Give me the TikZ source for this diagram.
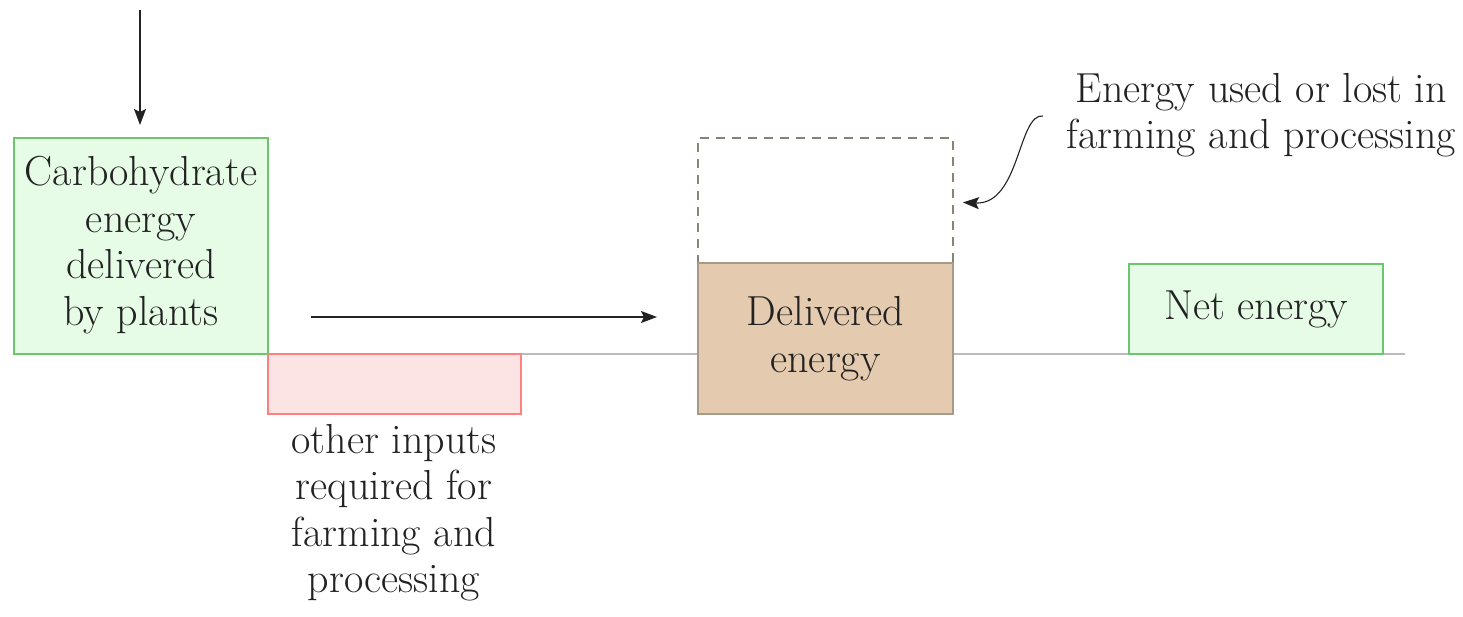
\documentclass[tikz,border=0pt]{standalone}
\usetikzlibrary{arrows.meta}
\definecolor{gfill}{HTML}{E6FCE6}
\definecolor{gline}{HTML}{6CC66C}
\definecolor{rfill}{HTML}{FDE4E4}
\definecolor{rline}{HTML}{FF8080}
\definecolor{bfill}{HTML}{E4CAAF}
\definecolor{bline}{HTML}{A89A88}
\definecolor{dline}{HTML}{8A8275}
\definecolor{axis}{HTML}{BBBBBB}
\definecolor{ink}{HTML}{222222}
\tikzset{
  x=1pt, y=-1pt,
  every node/.style={inner sep=0pt, outer sep=0pt, text=ink, align=center,
    font=\fontsize{42}{46.5}\selectfont},
  greenbox/.style={draw=gline, fill=gfill, line width=1.8pt, anchor=north west},
  redbox/.style={draw=rline, fill=rfill, line width=1.8pt, anchor=north west},
  brownbox/.style={draw=bline, fill=bfill, line width=1.8pt, anchor=north west},
  lostbox/.style={draw=dline, dash pattern=on 9pt off 7pt, line width=1.6pt, anchor=north west},
  arr/.style={draw=ink, line width=1.4pt, -{Stealth[length=16pt,width=12pt,inset=3pt]}},
}
\begin{document}
\begin{tikzpicture}
\useasboundingbox (0,0) rectangle (1463,616);
% zero line
\draw[axis, line width=1.6pt] (14,354) -- (1405,354);
% boxes
\node[greenbox, minimum width=254pt, minimum height=216pt] (carb) at (14,138) {};
\node (carblbl) at (141,245) {Carbohydrate\\energy\\delivered\\by plants};
\node[redbox, minimum width=253pt, minimum height=60pt] (other) at (268,354) {};
\node[anchor=north] (otherlbl) at (394,424) {other inputs\\required for\\farming and\\processing};
\node[lostbox, minimum width=255pt, minimum height=125pt] (lost) at (698,138) {};
\node[brownbox, minimum width=255pt, minimum height=151pt] (deliv) at (698,263) {Delivered\\energy};
\node[greenbox, minimum width=254pt, minimum height=90pt] (net) at (1129,264) {Net energy};
\node[anchor=north east] (annot) at (1456,73) {Energy used or lost in\\farming and processing};
% connectors
\coordinate (src) at (140,10);
\draw[arr, shorten >=13pt] (src) -- (carb.north -| src);
\coordinate (h) at (0,317);
\draw[arr, shorten <=43pt, shorten >=41pt] (carb.east |- h) -- (deliv.west |- h);
\coordinate (astart) at (1043,116);
\coordinate (aend) at (953,202);
\draw[arr, line width=1.1pt, shorten >=10pt] (astart) .. controls (1018,113) and (1020,205) .. (aend);
\end{tikzpicture}
\end{document}
